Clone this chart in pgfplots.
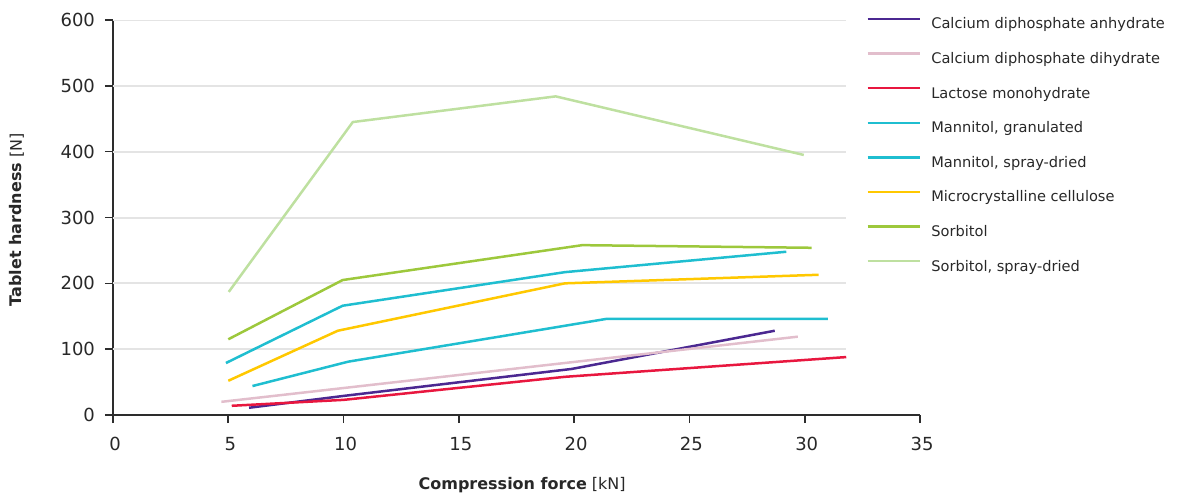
\documentclass[border=0pt]{standalone}
\usepackage{pgfplots}
\pgfplotsset{compat=1.18}
\usepackage{fontspec}
\setmainfont{DejaVu Sans}
\definecolor{cpurple}{RGB}{75,40,145}
\definecolor{cpink}{RGB}{226,190,204}
\definecolor{cred}{RGB}{232,23,63}
\definecolor{ccyan}{RGB}{31,190,208}
\definecolor{cyellow}{RGB}{255,200,0}
\definecolor{cgreen}{RGB}{157,200,60}
\definecolor{clgreen}{RGB}{190,224,160}
\definecolor{axisgray}{RGB}{45,45,45}
\definecolor{textgray}{RGB}{40,40,40}
\definecolor{gridgray}{RGB}{228,228,228}
\begin{document}
\begin{tikzpicture}[x=1pt,y=1pt]
\useasboundingbox (-56.5,-39) rectangle (534,207.5);
\begin{axis}[
  at={(0,0)}, anchor=south west,
  scale only axis, width=403.5pt, height=197.5pt,
  xmin=0, xmax=35, ymin=0, ymax=600,
  axis x line*=bottom, axis y line*=left,
  xtick={0,5,...,35}, ytick={0,100,...,600},
  tick align=outside, major tick length=4pt,
  tick style={color=axisgray, line width=0.8pt},
  axis line style={color=axisgray, line width=1pt},
  ticklabel style={font=\fontsize{9}{10}\selectfont, text=textgray},
  yticklabel style={xshift=-1.5pt},
  xticklabel style={yshift=-3.5pt, xshift=1pt},
  /pgf/number format/assume math mode=true,
  xlabel={\textbf{Compression force} [kN]},
  ylabel={\textbf{Tablet hardness} [N]},
  xlabel style={at={(axis description cs:0.507,-0.177)}, anchor=center, font=\fontsize{8}{9}\selectfont, text=textgray},
  ylabel style={at={(axis description cs:-0.119,0.494)}, anchor=center, font=\fontsize{8}{9}\selectfont, text=textgray},
  legend style={draw=none, fill=none, at={(axis description cs:0.9331,1.009)}, anchor=north west,
    font=\fontsize{7.3}{8}\selectfont, text=textgray, inner sep=0pt,
    row sep=9.8pt, column sep=5.2pt,
    nodes={inner sep=0pt, text height=6pt, text depth=1.5pt}},
  legend cell align=left,
  legend image code/.code={\draw[#1] (0pt,2.7pt) -- (26pt,2.7pt);},
  every axis plot/.append style={line width=1.25pt, mark=none, sharp plot},
]
\pgfplotsinvokeforeach{100,200,300,400,500,600}{
  \draw[gridgray, line width=1pt] (axis cs:0,#1) -- (axis cs:31.8,#1);
}
\addplot[cpurple] coordinates {(5.9,11) (10,29) (19.9,70) (28.7,128)};
\addlegendentry{Calcium diphosphate anhydrate}
\addplot[cpink] coordinates {(4.7,20) (29.7,119)};
\addlegendentry{Calcium diphosphate dihydrate}
\addplot[cred] coordinates {(5.15,14) (10,23) (19.6,58) (31.8,88)};
\addlegendentry{Lactose monohydrate}
\addplot[ccyan] coordinates {(4.9,79) (9.96,166) (19.6,217) (29.2,248)};
\addlegendentry{Mannitol, granulated}
\addplot[ccyan] coordinates {(6.05,44) (10.2,81) (21.4,146) (31.0,146)};
\addlegendentry{Mannitol, spray-dried}
\addplot[cyellow] coordinates {(5.0,52) (9.75,128) (19.6,200) (30.6,213)};
\addlegendentry{Microcrystalline cellulose}
\addplot[cgreen] coordinates {(5.0,115) (9.96,205) (20.35,258) (30.3,254)};
\addlegendentry{Sorbitol}
\addplot[clgreen] coordinates {(5.02,187) (10.4,445) (19.2,484) (29.96,395)};
\addlegendentry{Sorbitol, spray-dried}
\end{axis}
\end{tikzpicture}
\end{document}
